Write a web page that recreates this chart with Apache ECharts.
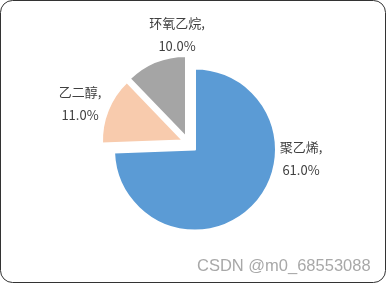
<!DOCTYPE html>
<html><head><meta charset="utf-8">
<script src="https://cdn.jsdelivr.net/npm/echarts@6/dist/echarts.min.js"></script>
<style>html,body{margin:0;padding:0;background:#fff}#c{width:387px;height:284px}</style>
</head><body><div id="c"></div>
<script>
const categories = ['聚乙烯', '乙二醇', '环氧乙烷'];
const values = [61, 11, 10];
const colors = ['#5B9BD5', '#F8CBAD', '#A5A5A5'];
// styling: explode offset of each slice, and label anchor
const offsets = [[0, 0], [-12, -9], [-9, -12.5]];
const labelAnchors = [[301, 159], [80, 104], [177, 35]];
const baseCenter = [195, 149.5];
const radius = 81;

const chart = echarts.init(document.getElementById('c'), null, {renderer: 'canvas'});
const series = categories.map((_, i) => ({
  type: 'pie',
  center: [baseCenter[0] + offsets[i][0], baseCenter[1] + offsets[i][1]],
  radius: radius,
  startAngle: 90,
  clockwise: true,
  silent: true,
  animation: false,
  labelLine: {show: false},
  data: categories.map((name, j) => ({
    name: name,
    value: values[j],
    itemStyle: j === i ? {color: colors[j], borderColor: '#fff', borderWidth: 2}
                       : {color: 'rgba(0,0,0,0)', borderWidth: 0},
    label: {show: j === i}
  })),
  label: {
    position: 'outside',
    formatter: p => p.name + ',\n' + p.value.toFixed(1) + '%',
    fontFamily: '"Noto Sans CJK SC", "Noto Sans", sans-serif',
    fontSize: 13,
    lineHeight: 23,
    color: '#404040',
    align: 'center',
    verticalAlign: 'middle'
  },
  labelLayout: () => ({x: labelAnchors[i][0], y: labelAnchors[i][1], align: 'center', verticalAlign: 'middle'})
}));

chart.setOption({
  backgroundColor: '#fff',
  animation: false,
  series: series,
  graphic: [
    {type: 'rect', shape: {x: 0.5, y: 0.5, width: 385, height: 282, r: 12},
     style: {fill: 'none', stroke: '#333', lineWidth: 1}},
    {type: 'text', left: 197, top: 258,
     style: {text: 'CSDN @m0_68553088', font: '16.5px "Liberation Sans", Arial, sans-serif', fill: '#a8a8a8'}}
  ]
});
</script></body></html>
